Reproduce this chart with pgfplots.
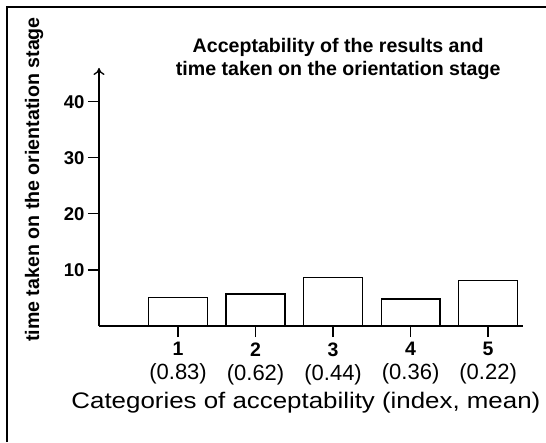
\documentclass[border=0pt]{standalone}
\usepackage{fontspec}
\setmainfont{Liberation Sans}
\newfontfamily\widesans[FakeStretch=1.15]{Liberation Sans}
\usepackage{pgfplots}
\pgfplotsset{compat=1.18}
\usetikzlibrary{arrows.meta}

\begin{document}
\begin{tikzpicture}[x=1pt,y=1pt]
% page = 546 x 442 px
\fill[white] (0,0) rectangle (546,442);
\useasboundingbox (0,0) rectangle (546,442);
\draw[line width=2pt] (7,0) -- (7,435) -- (546,435);

\begin{axis}[
  at={(99pt,116pt)}, anchor=south west,
  scale only axis, width=424pt, height=258pt,
  xmin=-0.02, xmax=5.45, ymin=0, ymax=46,
  axis lines=left,
  axis line style={line width=1.3pt},
  x axis line style={-},
  y axis line style={-{To[length=7pt,width=11pt,line width=1.3pt]}},
  tick align=outside, major tick length=11pt,
  tick style={line width=1.3pt, black},
  ytick={10,20,30,40},
  xtick={1,2,3,4,5},
  xticklabels={
    {{\fontsize{19.5}{24}\selectfont\bfseries 1}\\(0.83)},
    {{\fontsize{19.5}{24}\selectfont\bfseries 2}\\(0.62)},
    {{\fontsize{19.5}{24}\selectfont\bfseries 3}\\(0.44)},
    {{\fontsize{19.5}{24}\selectfont\bfseries 4}\\(0.36)},
    {{\fontsize{19.5}{24}\selectfont\bfseries 5}\\(0.22)}},
  xticklabel style={align=center, font=\fontsize{22}{24}\selectfont, yshift=-2pt},
  yticklabel style={font=\fontsize{18.5}{20}\selectfont\bfseries},
  /pgf/number format/assume math mode=true,
  title={Acceptability of the results and\\time taken on the orientation stage},
  title style={at={(axis description cs:0.564,1.012)}, anchor=center, align=center,
    font=\fontsize{19.6}{23}\selectfont\bfseries},
  ylabel={time taken on the orientation stage},
  ylabel style={at={(axis description cs:-0.153,0.568)}, anchor=center,
    font=\fontsize{19.6}{23}\selectfont\bfseries},
  xlabel={Categories of acceptability (index, mean)},
  xlabel style={at={(axis description cs:0.488,-0.2965)}, anchor=center,
    font=\widesans\fontsize{22.5}{24}\selectfont},
  clip=false,
]
\addplot[ybar, bar width=0.76, draw=black, fill=white, line width=1.3pt]
  coordinates {(1,5.1) (2,5.7) (3,8.6) (4,4.8) (5,8.1)};
\end{axis}
\end{tikzpicture}
\end{document}
